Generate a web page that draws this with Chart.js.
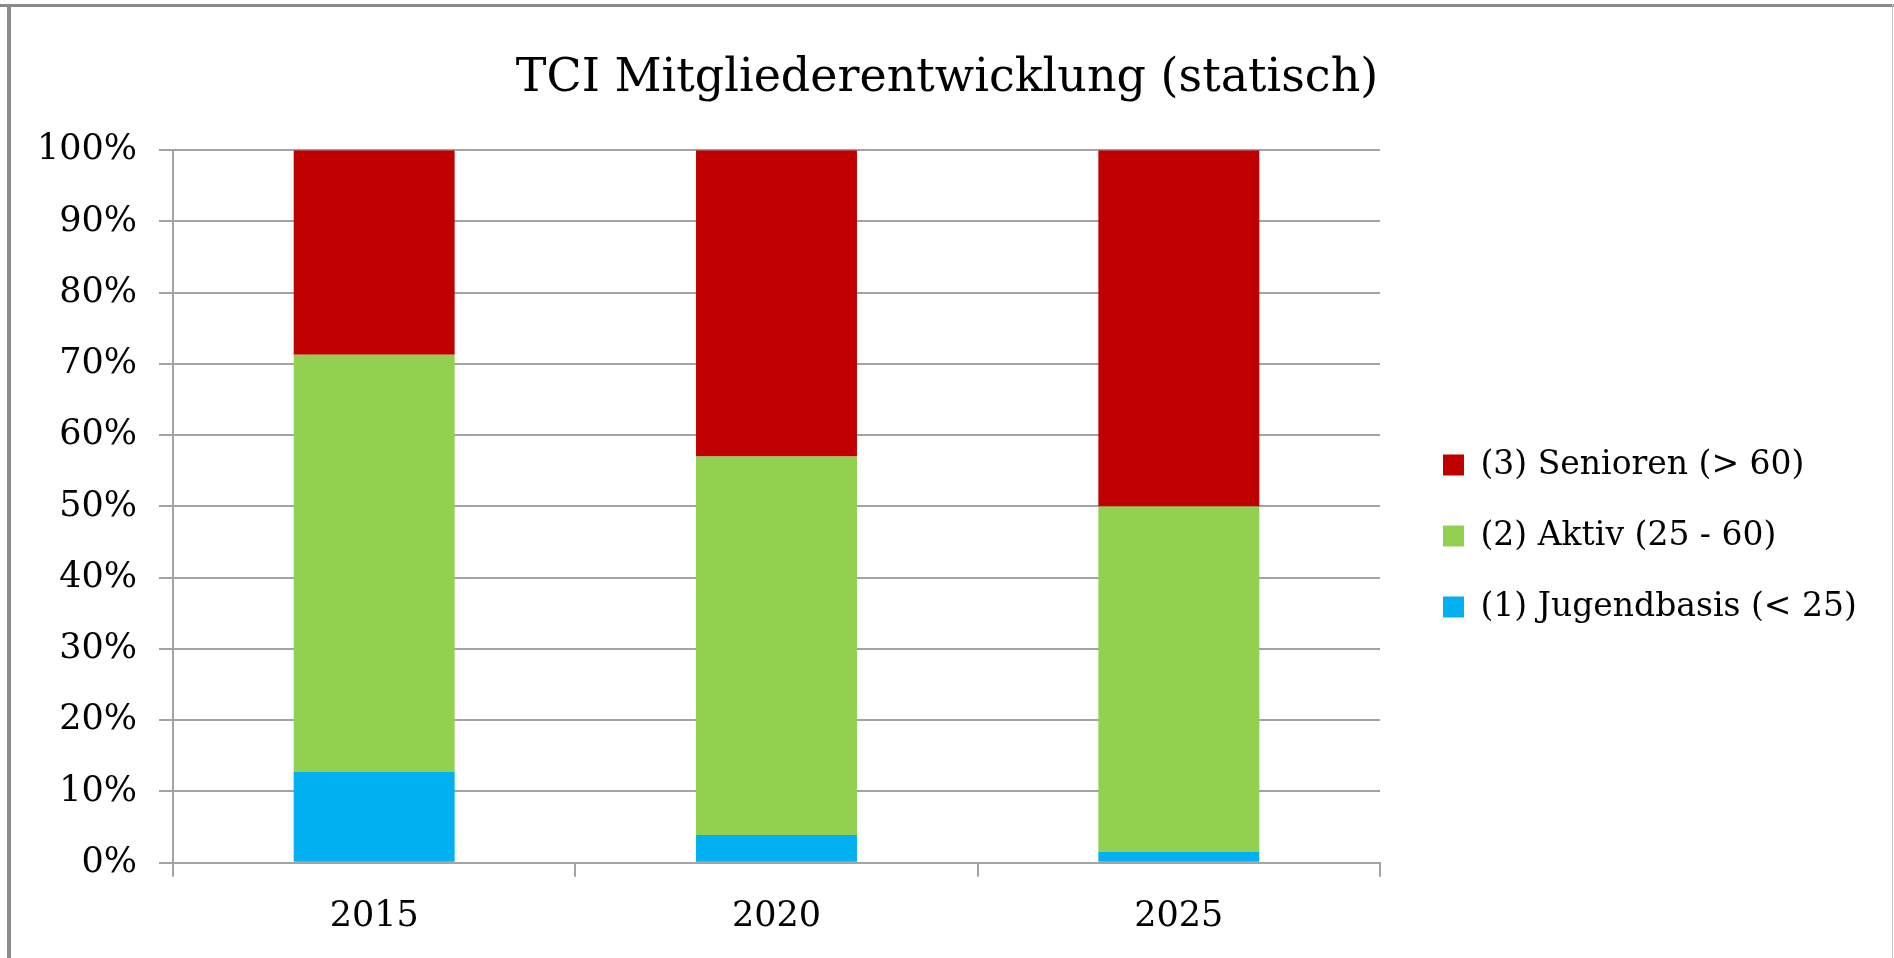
<!DOCTYPE html>
<html>
<head>
<meta charset="utf-8">
<script src="https://cdn.jsdelivr.net/npm/chart.js@4/dist/chart.umd.min.js"></script>
<style>
  html, body { margin: 0; padding: 0; background: #fff; }
  #wrap { position: relative; width: 1894px; height: 958px; overflow: hidden; }
  #c { position: absolute; left: 0; top: 0; }
  .b { position: absolute; }
  #bt { left: 0; top: 4px; width: 1894px; height: 3px; background: #8a8a8a; }
  #bl { left: 7px; top: 4px; width: 4px; height: 954px; background: #8c8c8c; }
  #br { left: 1892px; top: 4px; width: 1px; height: 954px; background: #c4c4c4; }
</style>
</head>
<body>
<div id="wrap">
  <canvas id="c" width="1894" height="958"></canvas>
  <div class="b" id="bt"></div>
  <div class="b" id="bl"></div>
  <div class="b" id="br"></div>
</div>
<script>
const titleText = 'TCI Mitgliederentwicklung (statisch)';
const categories = ['2015', '2020', '2025'];
const seriesNames = ['(1) Jugendbasis (< 25)', '(2) Aktiv (25 - 60)', '(3) Senioren (> 60)'];
const jugendbasis = [12.8, 3.9, 1.5];
const aktiv = [58.5, 53.1, 48.5];
const senioren = [28.7, 43.0, 50.0];
const yTicks = [0, 10, 20, 30, 40, 50, 60, 70, 80, 90, 100];

const FONT = 'DejaVu Serif';
const GRID = '#a3a3a3';

const legendWidthPlugin = {
  id: 'legendWidth',
  beforeLayout(chart) {
    const lg = chart.legend;
    if (lg && !lg._wPatched) {
      const f = lg.fit;
      lg.fit = function () { f.call(this); this.width = 489; };
      lg._wPatched = true;
    }
  }
};

new Chart(document.getElementById('c'), {
  type: 'bar',
  data: {
    labels: categories,
    datasets: [
      { label: seriesNames[0], data: jugendbasis, backgroundColor: '#00B0F0', borderWidth: 0 },
      { label: seriesNames[1], data: aktiv, backgroundColor: '#92D050', borderWidth: 0 },
      { label: seriesNames[2], data: senioren, backgroundColor: '#C00000', borderWidth: 0 }
    ]
  },
  options: {
    responsive: false,
    animation: false,
    devicePixelRatio: 1,
    barPercentage: 0.4,
    categoryPercentage: 1.0,
    layout: { padding: { left: 0, right: 0, top: 0, bottom: 0 } },
    plugins: {
      title: {
        display: true,
        text: titleText,
        color: '#000',
        font: { family: FONT, size: 46, weight: 'normal', lineHeight: 1.2 },
        padding: { top: 51, bottom: 44 }
      },
      legend: {
        display: true,
        position: 'right',
        reverse: true,
        title: { display: true, text: ' ', font: { family: FONT, size: 10, lineHeight: 1 }, padding: { top: 104, bottom: 0 } },
        labels: {
          color: '#000',
          font: { family: FONT, size: 33 },
          boxWidth: 21,
          boxHeight: 21,
          padding: 38
        }
      },
      tooltip: { enabled: false }
    },
    scales: {
      x: {
        stacked: true,
        offset: true,
        grid: { display: true, offset: true, drawOnChartArea: false, drawTicks: true, tickLength: 14, color: GRID, lineWidth: 2 },
        border: { display: true, color: GRID, width: 2 },
        ticks: { color: '#000', font: { family: FONT, size: 35 }, padding: 19 },
        afterFit(s) { s.height = 95.3; }
      },
      y: {
        stacked: true,
        min: 0,
        max: 100,
        afterBuildTicks(s) { s.ticks = yTicks.map(v => ({ value: v })); },
        grid: { display: true, drawTicks: true, tickLength: 14, color: GRID, lineWidth: 2 },
        border: { display: true, color: GRID, width: 2 },
        ticks: { color: '#000', font: { family: FONT, size: 35 }, padding: 22, callback: v => v + '%' },
        afterFit(s) { s.width = 173; }
      },
      pad: {
        type: 'linear',
        position: 'right',
        display: true,
        grid: { display: false },
        border: { display: false },
        ticks: { display: false },
        afterFit(s) { s.width = 25; }
      }
    }
  },
  plugins: [legendWidthPlugin]
});
</script>
</body>
</html>
